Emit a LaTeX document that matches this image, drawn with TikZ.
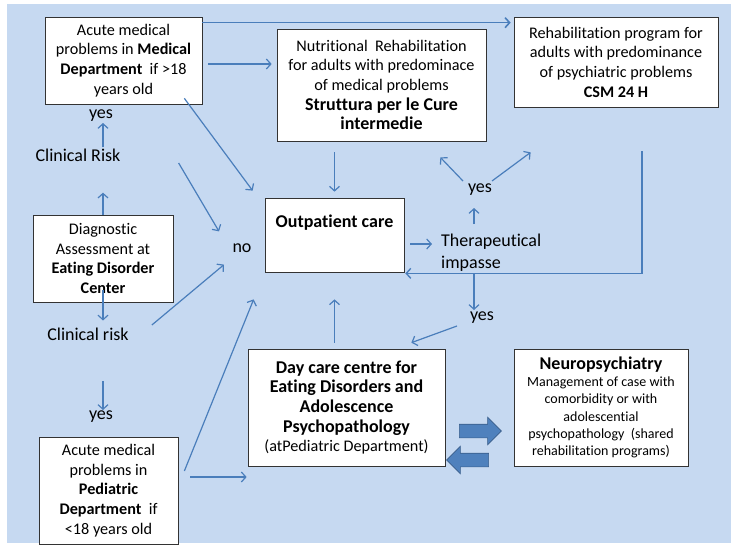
\documentclass[tikz,border=0pt]{standalone}
\usepackage{fontspec}
\setmainfont[Ligatures=NoCommon]{Carlito}
\usetikzlibrary{arrows.meta,calc,positioning,shapes.arrows}

\definecolor{bgblue}{HTML}{C6D9F1}
\definecolor{lineblue}{HTML}{4A7EBB}
\definecolor{fillblue}{HTML}{4F81BD}
\definecolor{edgeblue}{HTML}{385D8A}

\newcommand{\bigb}[1]{{\fontsize{18}{22.5}\selectfont\bfseries #1}}

\begin{document}
\begin{tikzpicture}[x=1pt,y=-1pt,
	basic/.style = {draw=black!80, fill=white, line width=0.7pt, rectangle, align=center, inner sep=0pt},
	box/.style   = {basic, font=\fontsize{16.2}{19.7}\selectfont},
	small/.style = {basic, font=\fontsize{14}{17.3}\selectfont},
	word/.style  = {font=\fontsize{18}{22}\selectfont, inner sep=1pt},
	arr/.style   = {-{Straight Barb[length=4.5pt,width=10pt]}, lineblue, line width=1.2pt},
	fat/.style   = {single arrow, draw=edgeblue, fill=fillblue, line width=0.6pt,
		minimum height=42pt, inner xsep=0pt, inner ysep=6.5pt, single arrow head extend=7pt},
	>=latex]

	% background panel
	\useasboundingbox (0,0) rectangle (731,550);
	\fill[bgblue] (7,4) rectangle (731,543);

	% boxes, at their centres
	\node[box, minimum width=157pt, minimum height=87pt] (med) at (123.5,60.5)
		{Acute medical\\ problems in \textbf{Medical}\\ \textbf{Department}\ \ if >18\\ years old};
	\node[box, minimum width=209pt, minimum height=112pt] (nutri) at (381.5,85)
		{Nutritional\ \ Rehabilitation\\ for adults with predominace\\ of medical problems\\ \bigb{Struttura per le Cure}\\ \bigb{intermedie}};
	\node[box, minimum width=204pt, minimum height=90pt] (csm) at (616,62)
		{Rehabilitation program for\\ adults with predominance\\ of psychiatric problems\\ \textbf{CSM 24 H}};
	\node[box, minimum width=139pt, minimum height=74pt] (out) at (334.5,235)
		{\bigb{Outpatient care}\\[8pt]};
	\node[box, minimum width=140pt, minimum height=87pt] (diag) at (103,258.5)
		{Diagnostic\\ Assessment at\\ \textbf{Eating Disorder}\\ \textbf{Center}};
	\node[box, minimum width=139pt, minimum height=107pt] (ped) at (108.5,490.5)
		{Acute medical\\ problems in\\ \textbf{Pediatric}\\ \textbf{Department}\ \ if\\ <18 years old};
	\node[box, minimum width=197pt, minimum height=117pt] (day) at (346.5,407.5)
		{\bigb{Day care centre for}\\ \bigb{Eating Disorders and}\\ \bigb{Adolescence}\\ \bigb{Psychopathology}\\ (atPediatric Department)};
	\node[small, minimum width=174pt, minimum height=117pt] (neuro) at (601,407.5)
		{\bigb{Neuropsychiatry}\\ Management of case with\\ comorbidity or with\\ adolescential\\ psychopathology\ \ (shared\\ rehabilitation programs)};

	% loose words
	\begin{scope}[every node/.style={word}]
	\node (yesA) at (101,116) {yes};
	\node (riskA) at (78,155) {Clinical Risk};
	\node (riskB) at (88,334) {Clinical risk};
	\node (yesB) at (101,417) {yes};
	\node (no) at (242,248) {no};
	\node[align=left, anchor=west] (thera) at (440,253) {Therapeutical\\ impasse};
	\node (yesC) at (480,190) {yes};
	\node (yesD) at (482,318) {yes};
	\end{scope}

	% connectors
	\draw[arr, line width=1.6pt] ($(med.north east)+(0,6)$) -- ($(csm.north west)+(-3,6)$);
	\draw[arr] ($(med.east)+(6,3.5)$) -- ($(nutri.west)+(-5,-21)$);
	\draw[arr] ($(med.south east)+(-18,-6)$) -- ($(out.north west)+(-12,-7)$);
	\draw[arr] ($(riskA.east)+(57,8)$) -- ($(no.north)+(-23,-11)$);
	\draw[arr] ($(riskB.east)+(22,-9)$) -- ($(no.south)+(-18,11)$);
	\draw[arr] (riskA.north -| diag.north) -- (yesA.south -| diag.north);
	\draw[arr] (diag.north) -- ++(0,-22);
	\draw[arr] ($(diag.south)+(0,-12)$) -- ($(riskB.north -| diag.south)+(0,-6)$);
	\draw[arr] ($(yesB.north -| diag.south)+(0,-29)$) -- (yesB.north -| diag.south);
	\draw[arr] ($(ped.east)+(6,-19.5)$) -- ($(out.south west)+(-11,27)$);
	\draw[arr] ($(ped.east)+(12,-13.5)$) -- ($(day.west |- ped.east)+(-1,-13.5)$);
	\draw[arr] ($(out.north |- nutri.south)+(0,11)$) -- ($(out.north)+(0,-6)$);
	\draw[arr] ($(out.south |- day.north)+(0,-6)$) -- ($(out.south)+(0,27)$);
	\draw[arr] ($(out.east)+(6,9)$) -- ($(thera.west)+(-8,-9)$);
	\draw[arr] ($(yesC.south)+(-6,27)$) -- ($(yesC.south)+(-6,11)$);
	\draw[arr] ($(yesC.center)+(-17,-9)$) -- ($(nutri.south east)+(-46,16)$);
	\draw[arr] ($(yesC.center)+(12,-9)$) -- ($(csm.south west)+(17,45)$);
	\draw[arr, line width=1.4pt] ($(csm.south)+(26,44)$) |- ($(out.south east)+(1,1)$);
	\draw[arr] ($(thera.west |- out.south east)+(34,1)$) -- ($(yesD.north)+(-8,-1)$);
	\draw[arr] ($(yesD.center)+(-25,8)$) -- ($(day.north east)+(-34,-6)$);

	% block arrows between day care and neuropsychiatry
	\node[fat] (toneuro) at ($(day.east)!0.5!(neuro.west)+(-2.5,23.5)$) {};
	\node[fat, shape border rotate=180] (fromneuro) at ($(day.east)!0.5!(neuro.west)+(-8.5,52.5)$) {};

\end{tikzpicture}
\end{document}
